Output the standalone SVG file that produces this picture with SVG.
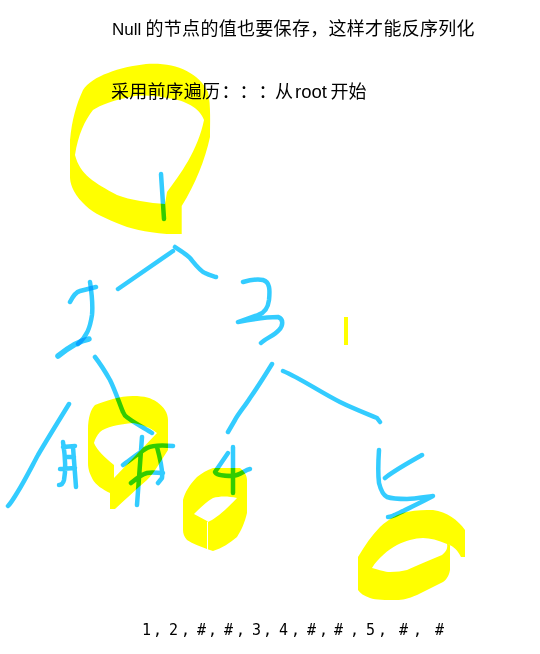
<svg xmlns="http://www.w3.org/2000/svg" width="540" height="654" viewBox="0 0 540 654">
<style>
.ink{fill:none;stroke:#33ccff;stroke-width:4.5;stroke-linecap:round;stroke-linejoin:round;mix-blend-mode:multiply}
.mark{fill:#ffff00;fill-rule:evenodd;stroke:none}
.cjk{font-family:"Noto Sans CJK SC","Liberation Sans",sans-serif;font-size:18px;fill:#000}
.lat{font-family:"Liberation Sans",sans-serif}
.seq{font-family:"DejaVu Sans Mono","Liberation Mono",monospace;font-size:15px;fill:#000}
</style>
<rect width="540" height="654" fill="#fff"/>
<g id="node-root">
<path class="mark" d="M146,64C175,62 198,72 208,92C211,105 210,125 210,137C205,160 195,185 181.700,206L181.700,234L166.700,234C145,232 130,229 116.700,223C100,216 90,211 83,203C72,192 70,182 70,177L70,140C72,120 76,105 83,90C92,76 120,67 146,64ZM75,155C80,175 95,183 117,195C130,200 150,203 165,204L167,192C180,175 198,150 204,120C200,108 185,100 167,98C150,95 140,95 130,97C115,100 100,105 93,110C85,120 78,135 75,155Z"/>
<path class="ink" d="M161,174L164,219"/>
</g>
<g id="node-2">
<path class="ink" d="M70,302C73,296 76,292 80,291L96,287"/>
<path class="ink" d="M90,282C92,295 93,305 92,315C90,328 87,336 78,344"/>
<path class="ink" d="M89,339C78,341 68,348 58,356" style="stroke-width:5.500"/>
</g>
<g id="node-3">
<path class="ink" d="M243,282C250,280 258,279 263,280C270,282 270,290 269,300C268,308 265,313 258,315L238,322C248,320 265,317 278,317C284,319 283,326 279,330C274,336 266,338 261,343"/>
</g>
<g id="node-null-1">
<path class="ink" d="M63,442C65,455 66,470 64,480C63,484 61,485 59,485M73,447L76,487M63,447L75,446M65,457L74,457M60,469L75,468"/>
</g>
<g id="node-null-2">
<path class="mark" d="M88,430C88,417 91,409 95,405C105,401 120,396 133,396C145,396 151,398 157,402C164,407 168,413 168,420L168,450C160,462 155,472 147,480C135,490 125,500 115,509L110,509L110,493C103,490 95,484 93,480C90,474 88,470 88,463ZM94,443C97,450 105,458 114,465L114,478L157,433C150,427 140,424 133,423C120,424 105,427 100,432C97,435 95,439 94,443Z"/>
<path class="ink" d="M142,437L137,505M157,447C160,458 163,470 162,478L158,483M123,465C130,460 140,452 147,448C153,445 163,445 173,446M131,483C137,478 143,474 147,473C152,472 158,473 163,473"/>
</g>
<g id="node-4">
<path class="mark" d="M183,500C185,492 190,484 197,477C202,473 207,470 213,468L240,468C245,472 247,476 247,480L247,513C245,522 241,531 237,537C230,543 222,548 213,551L207,549C200,546 193,544 187,540C184,537 183,533 183,530ZM194,514L207,521L208,522C215,519 226,510 237,498C228,496 220,496 213,498C206,502 200,508 194,514Z"/>
<path d="M207.500,522L207.500,551" stroke="#fff" stroke-width="1" fill="none"/>
<path class="ink" d="M233,447L233,493M228,453L215,472C216,475 224,476 233,476C240,475 245,470 250,469"/>
</g>
<g id="node-5">
<path class="mark" d="M358,557C365,545 372,535 380,527C390,518 398,514 407,512C417,510 425,510 433,510C447,512 458,520 465,530L465,557L461,557C458,551 454,546 447,544L450,545L450,570C449,576 446,580 443,582L417,595C408,599 402,600 397,600C385,600 376,600 370,598C364,596 360,593 358,590ZM372,568C380,570 385,572 390,572C397,572 402,571 407,570C418,565 430,560 442,555C446,552 448,548 447,544C438,540 430,538 423,538C415,538 405,541 397,545C388,550 378,558 372,568Z"/>
<path class="ink" d="M379,450C378,465 378,475 379,483C381,491 383,495 387,497C393,499 400,499 407,499C415,499 425,497 433,496C420,503 405,510 395,515C392,516 390,517 388,517M385,478C395,470 410,462 422,455"/>
</g>
<g id="connectors">
<path class="ink" d="M118,289L173,251"/>
<path class="ink" d="M175,247C182,252 186,254 190,258C195,264 200,271 205,273C209,275 213,276 216,277"/>
<path class="ink" d="M95,357C102,366 106,373 110,380C115,390 120,405 123,412C125,417 127,417 128,418C136,424 146,429 152,433"/>
<path class="ink" d="M69,404C58,422 48,438 38,455C31,468 24,482 17,493C14,498 11,503 8,506"/>
<path class="ink" d="M272,364C264,377 257,388 250,398C245,406 238,414 235,420L228,432"/>
<path class="ink" d="M283,371C300,378 320,392 340,402C352,408 365,413 377,418L380,422"/>
</g>
<rect class="mark" x="344" y="317" width="4" height="28"/>
<text class="cjk" x="112" y="35"><tspan class="lat" font-size="17">Null</tspan><tspan x="145.500 163.800 182.100 200.400 218.700 237 255.300 273.600 291.900 310.200 328.500 346.800 365.100 383.400 401.700 420 438.300 456.600">的节点的值也要保存，这样才能反序列化</tspan></text>
<text class="cjk" y="98" x="111 129.200 147.400 165.600 183.800 202 221.500 239.500 258.500">采用前序遍历：：：<tspan x="275">从</tspan><tspan class="lat" x="295" textLength="32" lengthAdjust="spacingAndGlyphs">root</tspan><tspan x="330.500 348.500">开始</tspan></text>
<text class="seq" y="635" x="142 153 161 169 181 189 197 208 216 224 236 244 252 263 271 279 291 299 307 319 327 334 350 358 366 378 390 399 413 425 435">1, 2, #, #, 3, 4, #, #, 5, #, #</text>
</svg>
